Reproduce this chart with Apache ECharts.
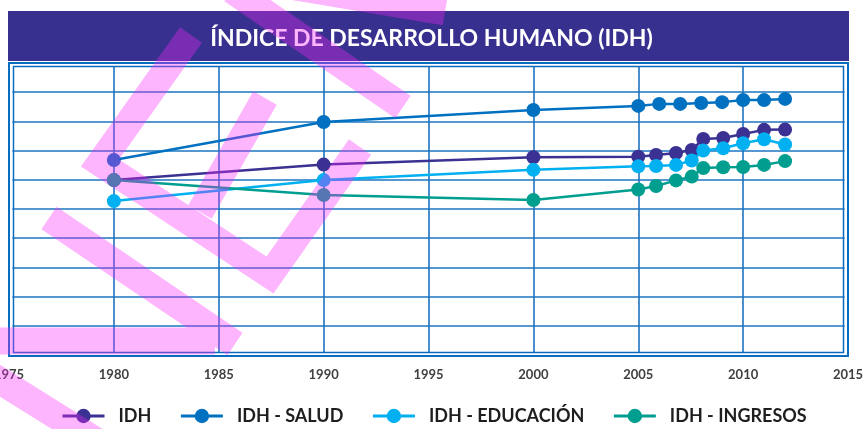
<!DOCTYPE html>
<html>
<head>
<meta charset="utf-8">
<script src="https://cdn.jsdelivr.net/npm/echarts@6/dist/echarts.min.js"></script>
<style>
  html, body { margin: 0; padding: 0; background: #fff; }
  #chart { width: 863px; height: 429px; }
</style>
</head>
<body>
<div id="chart"></div>
<script>
// años (eje x)
const yearsSalud = [1980, 1990, 2000, 2005, 2006, 2007, 2008, 2009, 2010, 2011, 2012];
const yearsOtros = [1980, 1990, 2000, 2005, 2005.85, 2006.8, 2007.55, 2008.1, 2009.05, 2010, 2011, 2012];
const xTicks = [1975, 1980, 1985, 1990, 1995, 2000, 2005, 2010, 2015];

// valores
const idh = [0.599, 0.652, 0.677, 0.679, 0.685, 0.692, 0.702, 0.740, 0.743, 0.757, 0.771, 0.772];
const idhSalud = [0.668, 0.798, 0.839, 0.853, 0.860, 0.860, 0.863, 0.866, 0.873, 0.873, 0.877];
const idhEducacion = [0.527, 0.599, 0.634, 0.646, 0.647, 0.651, 0.666, 0.700, 0.708, 0.725, 0.739, 0.721];
const idhIngresos = [0.599, 0.548, 0.531, 0.567, 0.579, 0.598, 0.611, 0.640, 0.643, 0.644, 0.651, 0.664];

const nombres = ["IDH", "IDH - SALUD", "IDH - EDUCACIÓN", "IDH - INGRESOS"];
const colores = ["#3a3192", "#0070c0", "#00b0f0", "#009e8f"];

function pares(xs, ys) {
  return ys.map((v, i) => [xs[i], v]);
}

// trazos de la marca de agua, dibujados en un solo path
echarts.graphic.registerShape(
  "marcaAgua",
  echarts.graphic.extendShape({
    shape: { lines: [] },
    buildPath: function (ctx, shape) {
      shape.lines.forEach(function (pts) {
        ctx.moveTo(pts[0][0], pts[0][1]);
        for (let i = 1; i < pts.length; i++) {
          ctx.lineTo(pts[i][0], pts[i][1]);
        }
      });
    }
  })
);

const chart = echarts.init(document.getElementById("chart"));
const gridColor = "#1c74c2";
const font = "Lato";

const seriesData = [
  pares(yearsOtros, idh),
  pares(yearsSalud, idhSalud),
  pares(yearsOtros, idhEducacion),
  pares(yearsOtros, idhIngresos)
];

chart.setOption({
  animation: false,
  title: {
    text: "ÍNDICE DE DESARROLLO HUMANO (IDH)",
    left: "center",
    top: 22,
    textStyle: {
      color: "#ffffff",
      fontFamily: font,
      fontWeight: "bold",
      fontSize: 23
    }
  },
  legend: {
    data: nombres,
    left: 56,
    top: 402,
    itemWidth: 42,
    itemHeight: 18,
    itemGap: 28,
    lineStyle: { width: 3 },
    textStyle: {
      fontFamily: font,
      fontWeight: "bold",
      fontSize: 18,
      color: "#1e1e1e",
      padding: [0, 0, 0, 9]
    }
  },
  grid: {
    left: 9,
    right: 15,
    top: 63,
    bottom: 74,
    containLabel: false,
    outerBoundsMode: "none"
  },
  xAxis: {
    type: "value",
    min: xTicks[0],
    max: xTicks[xTicks.length - 1],
    interval: 5,
    axisLine: { show: false },
    axisTick: { show: false },
    axisLabel: {
      margin: 13,
      fontFamily: font,
      fontWeight: "bold",
      fontSize: 13,
      color: "#404040",
      showMinLabel: true,
      showMaxLabel: true,
      formatter: (v) => String(v)
    },
    splitLine: { show: true, lineStyle: { color: gridColor, width: 1.6 } }
  },
  yAxis: {
    type: "value",
    min: 0,
    max: 1,
    interval: 0.1,
    axisLine: { show: false },
    axisTick: { show: false },
    axisLabel: { show: false },
    splitLine: { show: true, lineStyle: { color: gridColor, width: 1.6 } }
  },
  graphic: [
    // barra del título
    {
      type: "rect",
      z: 0,
      shape: { x: 8, y: 11, width: 841, height: 50 },
      style: { fill: "#38308e" }
    },
    // marco doble
    {
      type: "rect",
      z: 3,
      shape: { x: 11.2, y: 64.7, width: 834.6, height: 289.6 },
      style: { fill: null, stroke: "#ffffff", lineWidth: 2.4 }
    },
    {
      type: "rect",
      z: 4,
      shape: { x: 9, y: 63, width: 839, height: 293 },
      style: { fill: null, stroke: "#0a6cbf", lineWidth: 2 }
    },
    {
      type: "rect",
      z: 4,
      shape: { x: 13.5, y: 66.5, width: 830, height: 286 },
      style: { fill: null, stroke: "#0a6cbf", lineWidth: 1.5 }
    },
    // marca de agua rosada
    {
      type: "marcaAgua",
      z: 100,
      shape: {
        lines: [
          [[191, 35], [100, 163], [270, 275], [360, 147]],
          [[265, 98], [200, 212]],
          [[49, 218], [235, 344]],
          [[-5, 341], [215, 341]],
          [[-14, 372], [130, 462]],
          [[232, -10], [403, 107]],
          [[290, -14], [445, 12]]
        ]
      },
      style: {
        fill: null,
        stroke: "rgba(250, 40, 250, 0.34)",
        lineWidth: 27,
        lineCap: "butt",
        lineJoin: "miter"
      }
    }
  ],
  series: nombres.map((n, i) => ({
    name: n,
    type: "line",
    data: seriesData[i],
    symbol: "circle",
    symbolSize: 14,
    color: colores[i],
    lineStyle: { width: 2.5, color: colores[i] },
    itemStyle: { color: colores[i] }
  }))
});
</script>
</body>
</html>
